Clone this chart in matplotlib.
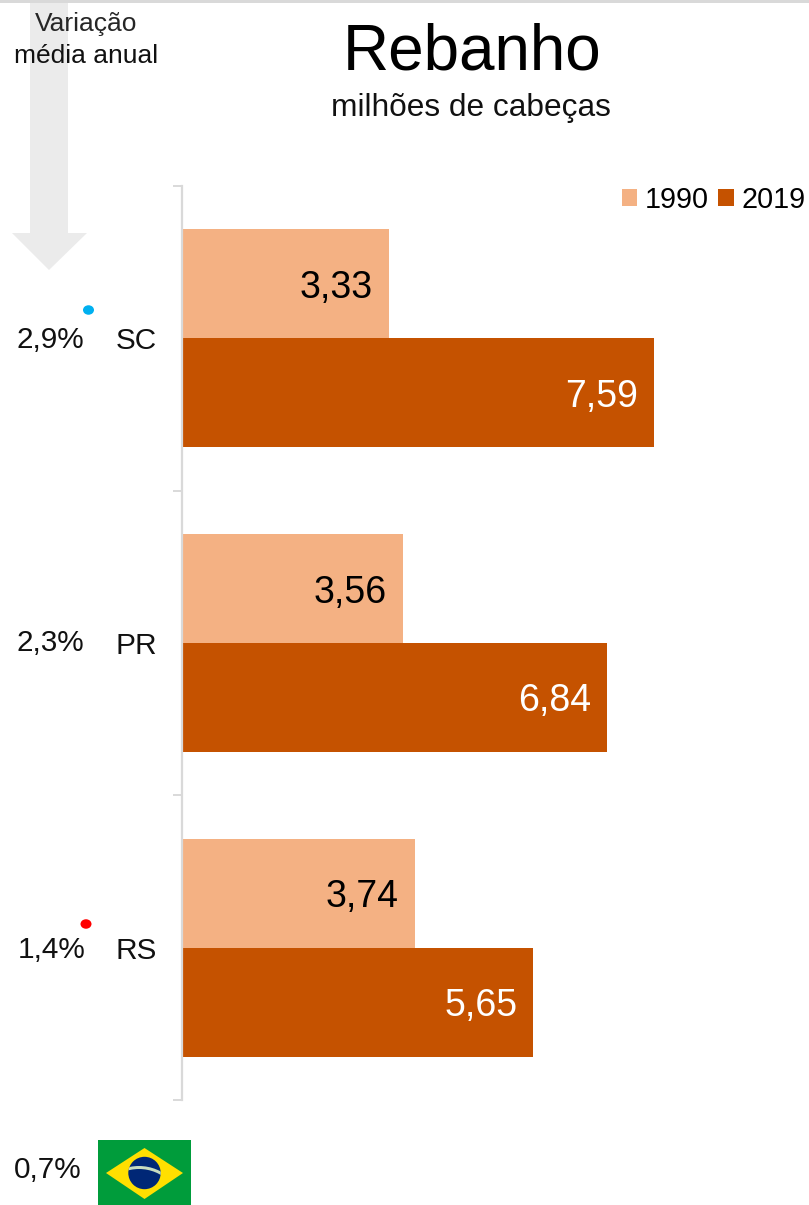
import matplotlib
matplotlib.use("Agg")
import matplotlib.pyplot as plt
from matplotlib.patches import Polygon, Rectangle, Ellipse, Circle, Wedge

plt.rcParams['font.family'] = ['Liberation Sans', 'DejaVu Sans']

categories = ["SC", "PR", "RS"]
values_1990 = [3.33, 3.56, 3.74]
values_2019 = [7.59, 6.84, 5.65]
growth_labels = ["2,9%", "2,3%", "1,4%"]
brazil_growth = "0,7%"
years = ["1990", "2019"]
color_1990 = "#F4B183"
color_2019 = "#C55200"
W, H = 809, 1205

fig = plt.figure(figsize=(W / 100, H / 100), dpi=100, facecolor="white")

# overlay in pixel coordinates, behind the chart, for the decoration
ov = fig.add_axes([0, 0, 1, 1], zorder=0)
ov.set_xlim(0, W)
ov.set_ylim(H, 0)
ov.axis("off")
ov.add_patch(Rectangle((0, 0), W, 3, color="#D9D9D9", lw=0))
ov.add_patch(Polygon([(30, 3), (68, 3), (68, 233), (87, 233), (49, 270), (12, 233), (30, 233)],
                     closed=True, color="#EBEBEB", lw=0))

# main chart
left, right, top, bottom = 182, 809, 186, 1100
ax = fig.add_axes([left / W, 1 - bottom / H, (right - left) / W, (bottom - top) / H], zorder=1)
ax.patch.set_alpha(0)
bar_h = 109 / 305
ypos = list(range(len(categories)))
bars_a = ax.barh([y - bar_h / 2 for y in ypos], values_1990, height=bar_h, color=color_1990, label=years[0])
bars_b = ax.barh([y + bar_h / 2 for y in ypos], values_2019, height=bar_h, color=color_2019, label=years[1])
ax.set_xlim(0, (right - left) / 62.2)
ax.set_ylim(len(categories) - 0.5, -0.5)
ax.set_yticks(ypos, categories, fontsize=21.4, color="#111111")
ax.tick_params(axis="y", which="major", length=0, pad=18)
ax.set_yticks([-0.5, 0.5, 1.5, 2.5], minor=True)
ax.tick_params(axis="y", which="minor", length=6.5, width=1.4, color="#D9D9D9")
ax.xaxis.set_visible(False)
for s in ("top", "right", "bottom"):
    ax.spines[s].set_visible(False)
ax.spines["left"].set_color("#D9D9D9")
ax.spines["left"].set_linewidth(1.6)

for bars, col in ((bars_a, "black"), (bars_b, "white")):
    for b in bars:
        v = b.get_width()
        ax.annotate(f"{v:.2f}".replace(".", ","), (v, b.get_y() + b.get_height() / 2),
                    xytext=(-11.7, -2.9), textcoords="offset points", ha="right", va="center",
                    fontsize=27, color=col)

ax.legend(loc="upper right", bbox_to_anchor=(1 - 3.5 / (right - left), 1 + 0.5 / (bottom - top)),
          ncol=2, frameon=False, fontsize=20.7,
          handlelength=0.53, handleheight=0.53, handletextpad=0.27, columnspacing=0.32,
          borderaxespad=0, borderpad=0)

# texts
ov.text(472, 53, "Rebanho", ha="center", va="center", fontsize=45.9, color="black")
ov.text(471, 108, "milhões de cabeças", ha="center", va="center", fontsize=22.8, color="#111111")
ov.text(86, 24, "Variação", ha="center", va="center", fontsize=19, color="#262626")
ov.text(86, 56, "média anual", ha="center", va="center", fontsize=19, color="#111111")

for lbl, x, y in zip(growth_labels, [84.5, 84.5, 86], [340, 643, 950]):
    ov.text(x, y, lbl, ha="right", va="center", fontsize=21.4, color="#111111")
ov.text(81.5, 1170, brazil_growth, ha="right", va="center", fontsize=21.4, color="#111111")

ov.add_patch(Ellipse((88.5, 310), 11, 9.5, color="#00B0F0", lw=0))
ov.add_patch(Ellipse((86, 924), 11, 9.5, color="#FF0000", lw=0))

# flag
ov.add_patch(Rectangle((98, 1140), 93, 65, color="#009C3B", lw=0))
ov.add_patch(Polygon([(106, 1173), (144.5, 1148), (183, 1173), (144.5, 1199)], closed=True, color="#FFDF00", lw=0))
globe = Circle((144.5, 1173), 16.2, color="#002776", lw=0)
ov.add_patch(globe)
band = Wedge((139, 1212), 46, 225, 315, width=3, color="#C8DCC0", lw=0)
ov.add_patch(band)
band.set_clip_path(globe)

fig.savefig("out.png", dpi=100, facecolor="white")
